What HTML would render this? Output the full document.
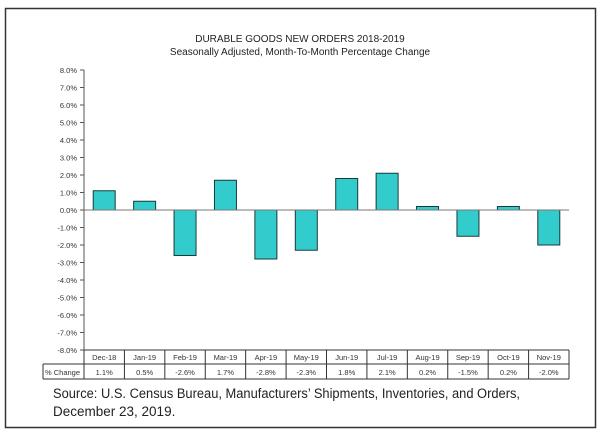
<!DOCTYPE html>
<html><head><meta charset="utf-8"><style>
body{margin:0;background:#fff;}
svg{display:block;font-family:"Liberation Sans",sans-serif;}
</style></head><body>
<svg width="600" height="435" viewBox="0 0 600 435">
<rect x="5.5" y="8.5" width="590" height="419" fill="#fff" stroke="#333" stroke-width="1.5"/>
<text x="300" y="42" text-anchor="middle" font-size="10" fill="#222">DURABLE GOODS NEW ORDERS 2018-2019</text>
<text x="300" y="55" text-anchor="middle" font-size="10" fill="#222">Seasonally  Adjusted,   Month-To-Month  Percentage  Change</text>
<g id="plot"></g>
<text x="53" y="398" font-size="13.5" textLength="467" lengthAdjust="spacingAndGlyphs" fill="#222">Source: U.S. Census Bureau, Manufacturers’ Shipments, Inventories, and Orders,</text>
<text x="53" y="416" font-size="13.5" fill="#222">December 23, 2019.</text>
</svg>
<script>
const categories=["Dec-18","Jan-19","Feb-19","Mar-19","Apr-19","May-19","Jun-19","Jul-19","Aug-19","Sep-19","Oct-19","Nov-19"];
const values=[1.1,0.5,-2.6,1.7,-2.8,-2.3,1.8,2.1,0.2,-1.5,0.2,-2.0];
const valueLabels=["1.1%","0.5%","-2.6%","1.7%","-2.8%","-2.3%","1.8%","2.1%","0.2%","-1.5%","0.2%","-2.0%"];
const ticks=[8,7,6,5,4,3,2,1,0,-1,-2,-3,-4,-5,-6,-7,-8];
const NS="http://www.w3.org/2000/svg";
const g=document.getElementById('plot');
const x0=84,x1=569,yTop=70,yBot=350;
const y=v=>yTop+(8-v)*(yBot-yTop)/16;
const cw=(x1-x0)/categories.length;
const xc=i=>x0+cw*(i+0.5);
function mk(t,a){const e=document.createElementNS(NS,t);for(const k in a)e.setAttribute(k,a[k]);g.appendChild(e);return e;}
let ax=mk('line',{x1:x0,y1:yTop,x2:x0,y2:yBot,stroke:'#555'});


ticks.forEach(v=>{
 let t=mk('line',{x1:x0-4,y1:y(v),x2:x0,y2:y(v),stroke:'#555'});
 
 
 let l=mk('text',{x:x0-7,y:y(v)+3,'text-anchor':'end','font-size':'7.5',fill:'#333'});
 l.textContent=v.toFixed(1)+'%';
 
 
});
values.forEach((v,i)=>{
 const bw=22;
 let r=mk('rect',{x:xc(i)-bw/2,y:Math.min(y(v),y(0)),width:bw,height:Math.abs(y(v)-y(0)),fill:'#33CCCC',stroke:'#1a3a3a','stroke-width':1});
 
 
});
let z=mk('line',{x1:x0,y1:y(0),x2:x1,y2:y(0),stroke:'#777','stroke-width':1});


const tl=43,r1=350,r2=364,r3=379;
[[x0,r1,x1,r1],[tl,r2,x1,r2],[tl,r3,x1,r3],[tl,r2,tl,r3],[x1,r1,x1,r3]].forEach(c=>{
 let l=mk('line',{x1:c[0],y1:c[1],x2:c[2],y2:c[3],stroke:'#333'});
 
 
});
categories.forEach((c,i)=>{
 let l=mk('line',{x1:x0+cw*i,y1:r1,x2:x0+cw*i,y2:r3,stroke:'#333'});
 
 
 let t=mk('text',{x:xc(i),y:r1+10,'text-anchor':'middle','font-size':'7.5',fill:'#333'});
 t.textContent=c;
 
 
 let v=mk('text',{x:xc(i),y:r2+11,'text-anchor':'middle','font-size':'7.5',fill:'#333'});
 v.textContent=valueLabels[i];
 
 
});
let h=mk('text',{x:tl+2,y:r2+11,'font-size':'7.5',fill:'#333'});
h.textContent='% Change';


</script>
</body></html>
